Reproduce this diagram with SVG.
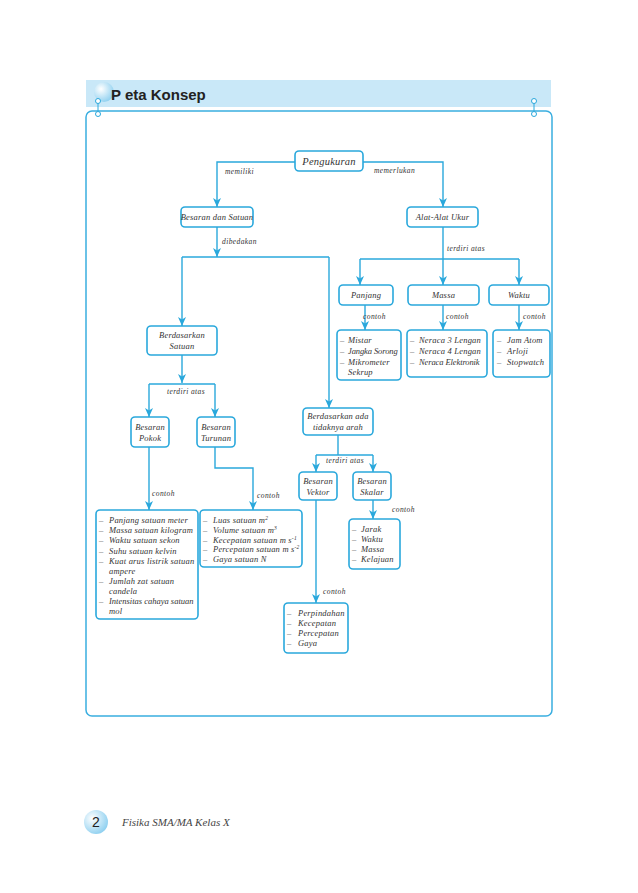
<svg xmlns="http://www.w3.org/2000/svg" width="638" height="893" viewBox="0 0 638 893">
<style>
.box{fill:#fff;stroke:#2aa8dc;stroke-width:1.6}
.ln{fill:none;stroke:#2aa8dc;stroke-width:1.4}
.t{font-family:"Liberation Serif",serif;font-style:italic;font-size:8.5px;fill:#333;letter-spacing:0.2px}
.tc{text-anchor:middle}
.lbl{font-family:"Liberation Serif",serif;font-style:italic;font-size:7.5px;fill:#333;letter-spacing:0.4px}
.big{font-size:10.5px}
.d{fill:#666}
.n{letter-spacing:-0.1px}
.pin{fill:#fff;stroke:#2aa8dc;stroke-width:1}
</style>
<defs>
<marker id="ar" markerWidth="9" markerHeight="8" refX="9" refY="4" orient="auto" markerUnits="userSpaceOnUse">
<path d="M0,0 L9,4 L0,8 L2.5,4 Z" fill="#2aa8dc"/>
</marker>
<radialGradient id="g1" cx="0.35" cy="0.35" r="0.7">
<stop offset="0" stop-color="#ffffff"/>
<stop offset="1" stop-color="#8fd0f0"/>
</radialGradient>
</defs>
<rect width="638" height="893" fill="#fff"/>
<g id="header">
<rect x="86" y="80" width="465" height="27" fill="#c9e8f8"/>
<circle cx="104" cy="92" r="10" fill="url(#g1)"/>
<text x="111" y="100" font-family="Liberation Sans, sans-serif" font-weight="bold" font-size="15" fill="#222">P eta Konsep</text>
</g>
<rect x="86" y="111" width="466" height="605" rx="6" fill="none" stroke="#3aaee0" stroke-width="1.5"/>
<g id="pins">
<line x1="98" y1="101" x2="98" y2="114" stroke="#2aa8dc" stroke-width="1"/>
<circle class="pin" cx="98" cy="101" r="2.5"/>
<circle class="pin" cx="98" cy="114" r="2.5"/>
<line x1="534" y1="101" x2="534" y2="114" stroke="#2aa8dc" stroke-width="1"/>
<circle class="pin" cx="534" cy="101" r="2.5"/>
<circle class="pin" cx="534" cy="114" r="2.5"/>
</g>
<g id="connectors">
<path class="ln" d="M295,162 H217 V207" marker-end="url(#ar)"/>
<path class="ln" d="M363,162 H443 V207" marker-end="url(#ar)"/>
<path class="ln" d="M217,227 V257" marker-end="url(#ar)"/>
<path class="ln" d="M182,257 H329"/>
<path class="ln" d="M182,257 V326" marker-end="url(#ar)"/>
<path class="ln" d="M329,257 V408" marker-end="url(#ar)"/>
<path class="ln" d="M182,355 V383" marker-end="url(#ar)"/>
<path class="ln" d="M149,384 H215"/>
<path class="ln" d="M149,384 V417" marker-end="url(#ar)"/>
<path class="ln" d="M215,384 V417" marker-end="url(#ar)"/>
<path class="ln" d="M149,447 V510" marker-end="url(#ar)"/>
<path class="ln" d="M215,447 V468 H253 V510" marker-end="url(#ar)"/>
<path class="ln" d="M338,435 V455"/>
<path class="ln" d="M316,455 H373"/>
<path class="ln" d="M316,455 V472" marker-end="url(#ar)"/>
<path class="ln" d="M373,455 V472" marker-end="url(#ar)"/>
<path class="ln" d="M373,500 V519" marker-end="url(#ar)"/>
<path class="ln" d="M316,500 V603" marker-end="url(#ar)"/>
<path class="ln" d="M443,227 V259"/>
<path class="ln" d="M360,259 H519"/>
<path class="ln" d="M360,259 V285" marker-end="url(#ar)"/>
<path class="ln" d="M443,259 V285" marker-end="url(#ar)"/>
<path class="ln" d="M519,259 V285" marker-end="url(#ar)"/>
<path class="ln" d="M365,305 V330" marker-end="url(#ar)"/>
<path class="ln" d="M443,305 V330" marker-end="url(#ar)"/>
<path class="ln" d="M519,305 V330" marker-end="url(#ar)"/>
<text class="lbl" x="225" y="174">memiliki</text>
<text class="lbl" x="374" y="173">memerlukan</text>
<text class="lbl" x="222" y="244">dibedakan</text>
<text class="lbl" x="167" y="394">terdiri atas</text>
<text class="lbl" x="152" y="496">contoh</text>
<text class="lbl" x="257" y="498">contoh</text>
<text class="lbl" x="326" y="463">terdiri atas</text>
<text class="lbl" x="392" y="512">contoh</text>
<text class="lbl" x="323" y="594">contoh</text>
<text class="lbl" x="447" y="251">terdiri atas</text>
<text class="lbl" x="363" y="319">contoh</text>
<text class="lbl" x="446" y="319">contoh</text>
<text class="lbl" x="523" y="319">contoh</text>
</g>
<g id="pengukuran">
<rect class="box" x="295" y="151" width="68" height="20" rx="4"/>
<text class="t tc big" x="329" y="164.5">Pengukuran</text>
</g>
<g id="besaran-satuan">
<rect class="box" x="181" y="207" width="72" height="20" rx="4"/>
<text class="t tc" x="217" y="220" letter-spacing="-0.4" font-size="8.2">Besaran dan Satuan</text>
</g>
<g id="alat-ukur">
<rect class="box" x="407" y="207" width="71" height="20" rx="4"/>
<text class="t tc" x="442.5" y="220">Alat-Alat Ukur</text>
</g>
<g id="berdasarkan-satuan">
<rect class="box" x="147" y="326" width="70" height="29" rx="4"/>
<text class="t tc" x="182" y="338">Berdasarkan</text>
<text class="t tc" x="182" y="349">Satuan</text>
</g>
<g id="berdasarkan-arah">
<rect class="box" x="303" y="408" width="70" height="27" rx="4"/>
<text class="t tc" x="338" y="419">Berdasarkan ada</text>
<text class="t tc" x="338" y="430">tidaknya arah</text>
</g>
<g id="besaran-pokok">
<rect class="box" x="131" y="417" width="38" height="30" rx="4"/>
<text class="t tc" x="150" y="430">Besaran</text>
<text class="t tc" x="150" y="441">Pokok</text>
</g>
<g id="besaran-turunan">
<rect class="box" x="197" y="417" width="38" height="30" rx="4"/>
<text class="t tc" x="216" y="430">Besaran</text>
<text class="t tc" x="216" y="441">Turunan</text>
</g>
<g id="besaran-vektor">
<rect class="box" x="299" y="472" width="38" height="28" rx="4"/>
<text class="t tc" x="318" y="484">Besaran</text>
<text class="t tc" x="318" y="495">Vektor</text>
</g>
<g id="besaran-skalar">
<rect class="box" x="353" y="472" width="38" height="28" rx="4"/>
<text class="t tc" x="372" y="484">Besaran</text>
<text class="t tc" x="372" y="495">Skalar</text>
</g>
<g id="panjang">
<rect class="box" x="339" y="285" width="54" height="20" rx="4"/>
<text class="t tc" x="366" y="298">Panjang</text>
</g>
<g id="massa">
<rect class="box" x="408" y="285" width="71" height="20" rx="4"/>
<text class="t tc" x="443.5" y="298">Massa</text>
</g>
<g id="waktu">
<rect class="box" x="489" y="285" width="60" height="20" rx="4"/>
<text class="t tc" x="519" y="298">Waktu</text>
</g>
<g id="list-panjang">
<rect class="box" x="337" y="330" width="64" height="50" rx="4"/>
<text class="t" y="343"><tspan class="d" x="340">–</tspan><tspan x="348">Mistar</tspan></text>
<text class="t" y="354"><tspan class="d" x="340">–</tspan><tspan x="348" class="n">Jangka Sorong</tspan></text>
<text class="t" y="365"><tspan class="d" x="340">–</tspan><tspan x="348">Mikrometer</tspan></text>
<text class="t" x="348" y="375">Sekrup</text>
</g>
<g id="list-massa">
<rect class="box" x="407" y="330" width="80" height="47" rx="4"/>
<text class="t" y="343"><tspan class="d" x="410">–</tspan><tspan x="419">Neraca 3 Lengan</tspan></text>
<text class="t" y="354"><tspan class="d" x="410">–</tspan><tspan x="419">Neraca 4 Lengan</tspan></text>
<text class="t" y="365"><tspan class="d" x="410">–</tspan><tspan x="419" class="n">Neraca Elektronik</tspan></text>
</g>
<g id="list-waktu">
<rect class="box" x="493" y="330" width="57" height="47" rx="4"/>
<text class="t" y="343"><tspan class="d" x="497">–</tspan><tspan x="507">Jam Atom</tspan></text>
<text class="t" y="354"><tspan class="d" x="497">–</tspan><tspan x="507">Arloji</tspan></text>
<text class="t" y="365"><tspan class="d" x="497">–</tspan><tspan x="507">Stopwatch</tspan></text>
</g>
<g id="list-pokok">
<rect class="box" x="96" y="510" width="102" height="109" rx="4"/>
<text class="t" y="523"><tspan class="d" x="99">–</tspan><tspan x="109">Panjang satuan meter</tspan></text>
<text class="t" y="533"><tspan class="d" x="99">–</tspan><tspan x="109">Massa satuan kilogram</tspan></text>
<text class="t" y="543"><tspan class="d" x="99">–</tspan><tspan x="109">Waktu satuan sekon</tspan></text>
<text class="t" y="554"><tspan class="d" x="99">–</tspan><tspan x="109">Suhu satuan kelvin</tspan></text>
<text class="t" y="564"><tspan class="d" x="99">–</tspan><tspan x="109">Kuat arus listrik satuan</tspan></text>
<text class="t" x="109" y="574">ampere</text>
<text class="t" y="584"><tspan class="d" x="99">–</tspan><tspan x="109">Jumlah zat satuan</tspan></text>
<text class="t" x="109" y="594">candela</text>
<text class="t" y="604"><tspan class="d" x="99">–</tspan><tspan x="109" letter-spacing="0">Intensitas cahaya satuan</tspan></text>
<text class="t" x="109" y="614">mol</text>
</g>
<g id="list-turunan">
<rect class="box" x="200" y="510" width="102" height="57" rx="4"/>
<text class="t" y="523"><tspan class="d" x="203">–</tspan><tspan x="213">Luas satuan m</tspan><tspan dy="-3" font-size="5.5">2</tspan></text>
<text class="t" y="533"><tspan class="d" x="203">–</tspan><tspan x="213">Volume satuan m</tspan><tspan dy="-3" font-size="5.5">3</tspan></text>
<text class="t" y="543"><tspan class="d" x="203">–</tspan><tspan x="213">Kecepatan satuan m s</tspan><tspan dy="-3" font-size="5.5">-1</tspan></text>
<text class="t" y="552"><tspan class="d" x="203">–</tspan><tspan x="213">Percepatan satuan m s</tspan><tspan dy="-3" font-size="5.5">-2</tspan></text>
<text class="t" y="562"><tspan class="d" x="203">–</tspan><tspan x="213">Gaya satuan N</tspan></text>
</g>
<g id="list-skalar">
<rect class="box" x="349" y="519" width="51" height="50" rx="4"/>
<text class="t" y="532"><tspan class="d" x="352">–</tspan><tspan x="361">Jarak</tspan></text>
<text class="t" y="542"><tspan class="d" x="352">–</tspan><tspan x="361">Waktu</tspan></text>
<text class="t" y="552"><tspan class="d" x="352">–</tspan><tspan x="361">Massa</tspan></text>
<text class="t" y="562"><tspan class="d" x="352">–</tspan><tspan x="361">Kelajuan</tspan></text>
</g>
<g id="list-vektor">
<rect class="box" x="284" y="603" width="64" height="50" rx="4"/>
<text class="t" y="616"><tspan class="d" x="287">–</tspan><tspan x="298">Perpindahan</tspan></text>
<text class="t" y="626"><tspan class="d" x="287">–</tspan><tspan x="298">Kecepatan</tspan></text>
<text class="t" y="636"><tspan class="d" x="287">–</tspan><tspan x="298">Percepatan</tspan></text>
<text class="t" y="646"><tspan class="d" x="287">–</tspan><tspan x="298">Gaya</tspan></text>
</g>
<g id="footer">
<circle cx="96" cy="822" r="12" fill="url(#g1)"/>
<text x="96" y="827" text-anchor="middle" font-family="Liberation Sans, sans-serif" font-size="14" fill="#222">2</text>
<text x="122" y="826" font-family="Liberation Serif, serif" font-style="italic" font-size="11" fill="#444">Fisika SMA/MA Kelas X</text>
</g>
</svg>
